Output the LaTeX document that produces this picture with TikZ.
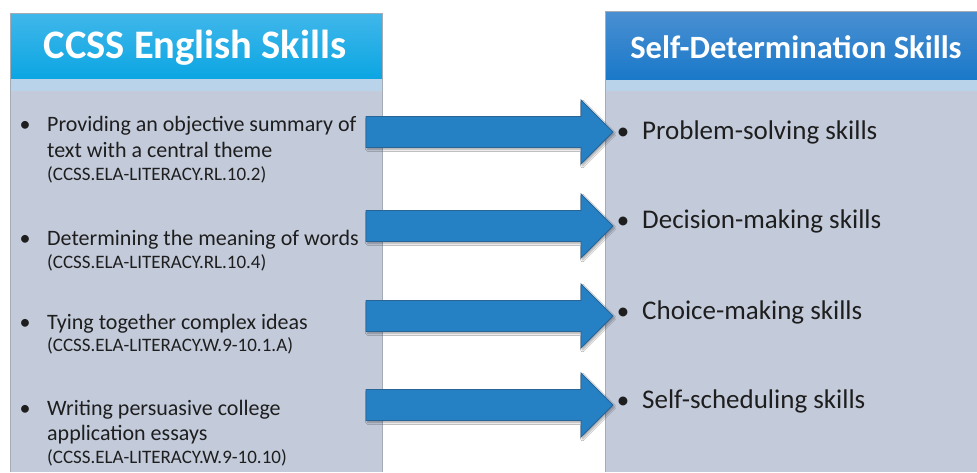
\documentclass[tikz,border=0pt]{standalone}
\usepackage{fontspec}
\setmainfont{Carlito}
\usetikzlibrary{shadows.blur,calc}
\definecolor{bodyc}{RGB}{195,203,219}
\definecolor{bandc}{RGB}{184,211,234}
\definecolor{lhtop}{RGB}{64,183,234}
\definecolor{lhbot}{RGB}{12,166,227}
\definecolor{rhtop}{RGB}{74,143,210}
\definecolor{rhbot}{RGB}{26,121,201}
\definecolor{arrowc}{RGB}{38,128,196}
\definecolor{arrowd}{RGB}{40,100,150}
\definecolor{txt}{RGB}{30,30,30}
\definecolor{edgec}{RGB}{165,172,182}
\tikzset{
  itemtxt/.style={anchor=base west,inner sep=0pt,text=txt,font=\fontsize{22}{26}\selectfont},
  codetxt/.style={anchor=base west,inner sep=0pt,text=txt,font=\fontsize{19}{22}\selectfont},
  righttxt/.style={anchor=base west,inner sep=0pt,text=txt,font=\fontsize{27}{32}\selectfont},
  bulletl/.style={anchor=base,inner sep=0pt,text=txt,font=\fontsize{22}{26}\selectfont},
  bulletr/.style={anchor=base,inner sep=0pt,text=txt,font=\fontsize{25}{30}\selectfont},
  headtxt/.style={anchor=base,inner sep=0pt,text=white,font=\bfseries},
  blockarr/.style={fill=arrowc,draw=arrowd,line width=0.8pt,line join=miter,
    blur shadow={shadow xshift=1.5pt,shadow yshift=-2pt,shadow blur steps=6,shadow opacity=35}}
}
\newcommand{\blockarrow}[2]{% name, center y
  \coordinate (#1s) at (366,#2);
  \coordinate (#1t) at (613,#2);
  \path[blockarr] ($(#1s)+(0,-15.5)$) -- (581,#2-15.5) -- (581,#2-32) -- (#1t)
     -- (581,#2+32) -- (581,#2+15.5) -- ($(#1s)+(0,15.5)$) -- cycle;
}
\begin{document}
\begin{tikzpicture}[x=1pt,y=-1pt]
\useasboundingbox (0,0) rectangle (977,472);
\fill[white] (0,0) rectangle (977,472);
% left panel
\fill[bodyc] (10.5,13) rectangle (382.5,472);
\fill[bandc] (10.5,78) rectangle (382.5,91);
\shade[top color=lhtop,bottom color=lhbot] (10.5,13) rectangle (382.5,78);
\draw[edgec,line width=0.8pt] (10.5,472) -- (10.5,13) -- (382.5,13) -- (382.5,472);
% right panel
\fill[bodyc] (605,11) rectangle (977,472);
\fill[bandc] (605,79) rectangle (977,91);
\shade[top color=rhtop,bottom color=rhbot] (605,11) rectangle (977,79);
\draw[edgec,line width=0.8pt] (605,472) -- (605,11) -- (977,11);
% headers
\node[headtxt,font=\bfseries\fontsize{40.5}{46}\selectfont] (lhead) at (195,58) {CCSS English Skills};
\node[headtxt,font=\bfseries\fontsize{32.5}{38}\selectfont] (rhead) at (796,58) {Self-Determination Skills};
% left items
\node[bulletl] (lb1) at (25,131) {•};
\node[itemtxt] (l1a) at (47,131) {Providing an objective summary of};
\node[itemtxt] (l1b) at (47,157) {text with a central theme};
\node[codetxt] (l1c) at (47,180) {(CCSS.ELA-LITERACY.RL.10.2)};
\node[bulletl] (lb2) at (25,245) {•};
\node[itemtxt] (l2a) at (47,245) {Determining the meaning of words};
\node[codetxt] (l2c) at (47,268) {(CCSS.ELA-LITERACY.RL.10.4)};
\node[bulletl] (lb3) at (25,329) {•};
\node[itemtxt] (l3a) at (47,329) {Tying together complex ideas};
\node[codetxt] (l3c) at (47,351) {(CCSS.ELA-LITERACY.W.9-10.1.A)};
\node[bulletl] (lb4) at (25,415) {•};
\node[itemtxt] (l4a) at (47,415) {Writing persuasive college};
\node[itemtxt] (l4b) at (47,440) {application essays};
\node[codetxt] (l4c) at (47,463) {(CCSS.ELA-LITERACY.W.9-10.10)};
% right items
\node[bulletr] (rb1) at (623,139) {•};
\node[righttxt] (r1) at (642,139) {Problem-solving skills};
\node[bulletr] (rb2) at (623,228) {•};
\node[righttxt] (r2) at (642,228) {Decision-making skills};
\node[bulletr] (rb3) at (623,319) {•};
\node[righttxt] (r3) at (642,319) {Choice-making skills};
\node[bulletr] (rb4) at (623,408) {•};
\node[righttxt] (r4) at (642,408) {Self-scheduling skills};
% arrows
\blockarrow{a1}{132}
\blockarrow{a2}{226}
\blockarrow{a3}{316}
\blockarrow{a4}{405}
\end{tikzpicture}
\end{document}
